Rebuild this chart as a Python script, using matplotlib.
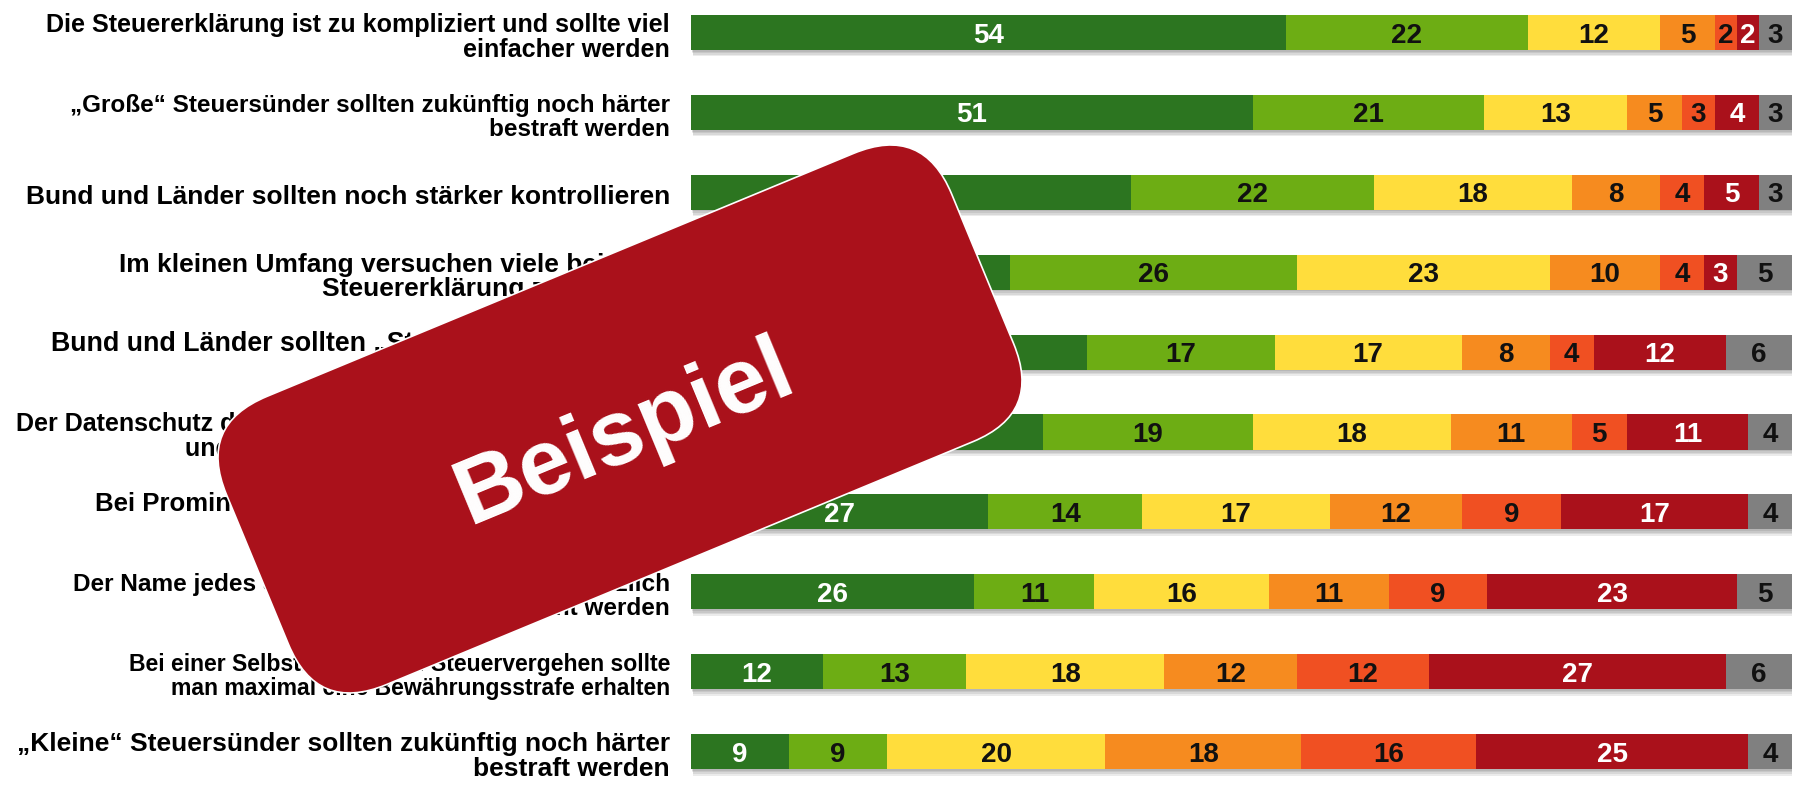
import numpy as np
import matplotlib.pyplot as plt
from matplotlib.patches import FancyBboxPatch
from matplotlib.transforms import Affine2D, blended_transform_factory

plt.rcParams['font.family'] = ['Liberation Sans', 'DejaVu Sans']

# Aussagen (von oben nach unten)
statements = [
    'Die Steuererklärung ist zu kompliziert und sollte viel\neinfacher werden',
    '„Große“ Steuersünder sollten zukünftig noch härter\nbestraft werden',
    'Bund und Länder sollten noch stärker kontrollieren',
    'Im kleinen Umfang versuchen viele bei ihrer\nSteuererklärung zu tricksen',
    'Bund und Länder sollten „Steuer-CDs“ weiterhin\nankaufen dürfen',
    'Der Datenschutz der Bankkunden sollte auch weiterhin\nund das Bankgeheimnis gewahrt bleiben',
    'Bei Prominenten sollten Steuerdaten öffentlich\ngemacht werden',
    'Der Name jedes Steuersünders sollte grundsätzlich\nveröffentlicht werden',
    'Bei einer Selbstanzeige bei Steuervergehen sollte\nman maximal eine Bewährungsstrafe erhalten',
    '„Kleine“ Steuersünder sollten zukünftig noch härter\nbestraft werden',
]

# Antworten in %
stimme_voll_zu = [54, 51, 40, 29, 36, 32, 27, 26, 12, 9]
stimme_eher_zu = [22, 21, 22, 26, 17, 19, 14, 11, 13, 9]
teils_teils = [12, 13, 18, 23, 17, 18, 17, 16, 18, 20]
eher_nicht = [5, 5, 8, 10, 8, 11, 12, 11, 12, 18]
nicht_zu = [2, 3, 4, 4, 4, 5, 9, 9, 12, 16]
gar_nicht = [2, 4, 5, 3, 12, 11, 17, 23, 27, 25]
weiss_nicht = [3, 3, 3, 5, 6, 4, 4, 5, 6, 4]

series = [stimme_voll_zu, stimme_eher_zu, teils_teils, eher_nicht,
          nicht_zu, gar_nicht, weiss_nicht]
colors = ['#2C7520', '#6DAD14', '#FFDD3C', '#F68B1F', '#F05022', '#AA111B', '#808080']
txt_colors = ['white', '#111111', '#111111', '#111111', '#111111', 'white', '#111111']
# Textfelder im Original sind einzeln auf die Breite angepasst
label_sizes = [18.1, 17.5, 19.0, 19.0, 19.3, 18.0, 18.5, 17.6, 16.6, 19.0]

W, H = 1794, 785
fig = plt.figure(figsize=(W / 100, H / 100), dpi=100)
ax = fig.add_axes([691 / W, 0, 1101 / W, 1])
ax.set_xlim(0, 100)
ax.set_ylim(9.418, -0.407)
ax.axis('off')

data = np.array(series, dtype=float)
totals = data.sum(axis=0)
pct = data / totals * 100
ypos = np.arange(len(statements))
bh = 0.44

# weicher Schatten unter den Balken
for k in range(1, 5):
    ax.barh(ypos + 0.02 * k, 100, height=bh, left=0.05 * k,
            color='black', alpha=0.08, linewidth=0, zorder=1)

left = np.zeros(len(statements))
for vals, w, c, tc in zip(series, pct, colors, txt_colors):
    ax.barh(ypos, w, height=bh, left=left, color=c, linewidth=0, zorder=2)
    for y, v, l, ww in zip(ypos, vals, left, w):
        ax.text(l + ww / 2, y, str(v), ha='center', va='center_baseline',
                fontsize=20, fontweight='bold', color=tc, zorder=3)
    left += w

tr = blended_transform_factory(fig.transFigure, ax.transData)
for y, s, fs in zip(ypos, statements, label_sizes):
    ax.text(670 / W, y + 0.06, s, transform=tr, ha='right', va='center',
            fontsize=fs, fontweight='bold', color='black', linespacing=1.05)

# "Beispiel"-Stempel
ov = fig.add_axes([0, 0, 1, 1])
ov.set_xlim(0, W)
ov.set_ylim(H, 0)
ov.axis('off')
cx, cy, sw, sh, ang = 620, 419, 785, 312, 22.5
stamp = FancyBboxPatch((cx - sw / 2, cy - sh / 2), sw, sh,
                       boxstyle='round,pad=0,rounding_size=75',
                       facecolor='#AA111B', edgecolor='white', linewidth=1.2)
stamp.set_transform(Affine2D().rotate_deg_around(cx, cy, -ang) + ov.transData)
ov.add_patch(stamp)
ov.text(634, 456, 'Beispiel', rotation=22.5, rotation_mode='anchor',
        ha='center', va='baseline', fontsize=67, fontweight='bold', color='white')

fig.savefig('out.png', dpi=100)
